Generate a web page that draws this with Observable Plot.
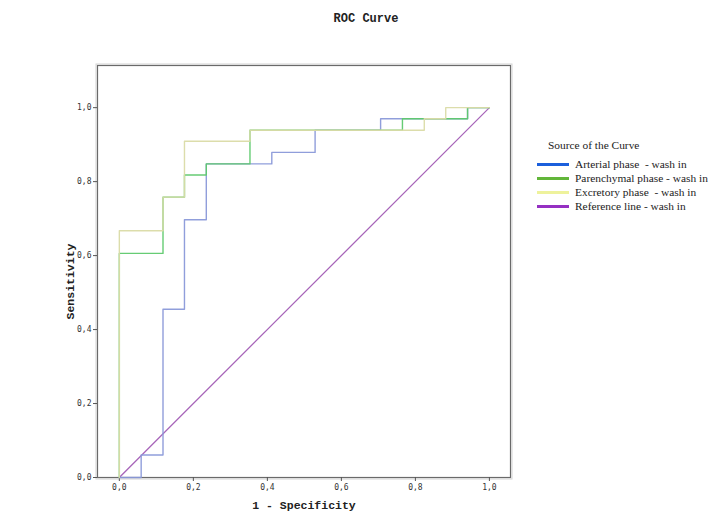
<!DOCTYPE html>
<html>
<head>
<meta charset="utf-8">
<script src="https://cdn.jsdelivr.net/npm/d3@7"></script>
<script src="https://cdn.jsdelivr.net/npm/@observablehq/plot@0.6"></script>
<style>
  body { margin: 0; background: #fff; }
  #wrap { position: relative; width: 719px; height: 530px; }
  #title { position: absolute; left: 0; width: 732px; top: 12px; text-align: center;
           font: bold 12px "Liberation Mono", monospace; color: #222; }
  #legend { position: absolute; left: 537px; top: 138px; font-family: "Liberation Serif", serif; font-size: 11.4px; color: #222; }
  #legend .lt { margin-left: 11px; height: 14px; line-height: 14px; margin-bottom: 5px; }
  #legend .it { display: flex; align-items: center; height: 14px; }
  #legend .sw { width: 32px; height: 3px; margin-right: 6px; }
  g[aria-label="x-axis label"] text { font: bold 11.5px "Liberation Mono", monospace; fill: #222; }
</style>
</head>
<body>
<div id="wrap">
  <div id="title"></div>
  <div id="chart"></div>
  <div id="legend"></div>
</div>
<script>
const titleText = "ROC Curve";
const xLabel = "1 - Specificity";
const yLabel = "Sensitivity";
const legendTitle = "Source of the Curve";
const seriesNames = ["Arterial phase  - wash in", "Parenchymal phase - wash in", "Excretory phase  - wash in", "Reference line - wash in"];
const lineColors = ["#8a99d9", "#5ec96d", "#dadba6", "#a765b9"];
const legendColors = ["#1b5fdc", "#62b63a", "#eef29c", "#9530c2"];
const ticks = [0, 0.2, 0.4, 0.6, 0.8, 1.0];

const arterialX = [0, 0.059, 0.118, 0.176, 0.235, 0.412, 0.529, 0.706, 0.941, 1];
const arterialY = [0, 0.061, 0.455, 0.697, 0.848, 0.879, 0.939, 0.970, 1.0, 1.0];
const parenchymalX = [0, 0, 0.118, 0.176, 0.235, 0.353, 0.765, 0.941, 1];
const parenchymalY = [0, 0.606, 0.758, 0.818, 0.848, 0.939, 0.970, 1.0, 1.0];
const excretoryX = [0, 0, 0.118, 0.176, 0.353, 0.824, 0.882, 1];
const excretoryY = [0, 0.667, 0.758, 0.909, 0.939, 0.970, 1.0, 1.0];
const referenceX = [0, 1];
const referenceY = [0, 1];

const toRows = (xs, ys, s) => xs.map((x, i) => ({x, y: ys[i], s}));
const curves = [
  toRows(arterialX, arterialY, seriesNames[0]),
  toRows(parenchymalX, parenchymalY, seriesNames[1]),
  toRows(excretoryX, excretoryY, seriesNames[2])
];
const ref = toRows(referenceX, referenceY, seriesNames[3]);
const fmt = d => d.toFixed(1).replace(".", ",");

document.getElementById("title").textContent = titleText;

const chart = Plot.plot({
  width: 719,
  height: 530,
  marginLeft: 97,
  marginRight: 209,
  marginTop: 65,
  marginBottom: 53,
  style: {fontFamily: "DejaVu Sans Mono, monospace", fontSize: "8px", color: "#333", background: "#fff"},
  x: {domain: [-0.059, 1.057]},
  y: {domain: [0, 1.114]},
  marks: [
    Plot.frame({stroke: "#d4d4d4", inset: -1.5}),
    Plot.frame({stroke: "#6a6a6a", strokeWidth: 1.2}),
    Plot.axisX({ticks, tickFormat: fmt, tickSize: 4, tickPadding: 3, stroke: "#555",
                label: xLabel, labelAnchor: "center", labelArrow: "none", labelOffset: 31}),
    Plot.axisY({ticks, tickFormat: fmt, tickSize: 4, tickPadding: 2, stroke: "#555", label: null}),
    Plot.text([yLabel], {text: d => d, frameAnchor: "left", textAnchor: "middle", rotate: -90, dx: -27, dy: 10,
                 fontFamily: "Liberation Mono, monospace", fontWeight: "bold", fontSize: 11.5, fill: "#222"}),
    Plot.line(ref, {x: "x", y: "y", stroke: lineColors[3], strokeWidth: 1.3}),
    ...curves.map((c, i) => Plot.line(c, {x: "x", y: "y", curve: "step-after",
                 stroke: lineColors[i], strokeWidth: 1.4, strokeOpacity: 0.95}))
  ]
});
document.getElementById("chart").appendChild(chart);

const leg = document.getElementById("legend");
const lt = document.createElement("div");
lt.className = "lt";
lt.textContent = legendTitle;
leg.appendChild(lt);
seriesNames.forEach((n, i) => {
  const it = document.createElement("div");
  it.className = "it";
  const sw = document.createElement("div");
  sw.className = "sw";
  sw.style.background = legendColors[i];
  const tx = document.createElement("span");
  tx.textContent = n;
  tx.style.whiteSpace = "pre";
  it.appendChild(sw);
  it.appendChild(tx);
  leg.appendChild(it);
});
</script>
</body>
</html>
